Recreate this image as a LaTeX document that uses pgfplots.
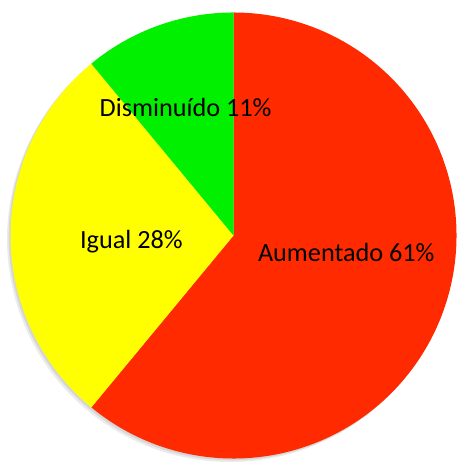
\documentclass[border=0pt]{standalone}
\usepackage{pgfplots}
\pgfplotsset{compat=1.18}
\usepackage{fontspec}
\setmainfont{Carlito}
\definecolor{cred}{RGB}{255,42,0}
\definecolor{cyel}{RGB}{255,255,0}
\definecolor{cgrn}{RGB}{0,240,0}
% data (percent)
\def\vA{61}% Aumentado
\def\vB{28}% Igual
\def\vC{11}% Disminuido
\pgfmathsetmacro{\aA}{90-3.6*\vA}
\pgfmathsetmacro{\aB}{\aA-3.6*\vB}
\pgfmathsetmacro{\aC}{\aB-3.6*\vC}
\def\cx{234}
\def\cy{236}
\def\R{223.5}
\begin{document}
\begin{tikzpicture}
\begin{axis}[
  scale only axis, width=459bp, height=462bp,
  xmin=0, xmax=459, ymin=0, ymax=462, y dir=reverse,
  hide axis, clip=false,
]
\path (axis cs:0,0) rectangle (axis cs:459,462);
% soft shadow
\addplot[fill=black!8, draw=none, domain=0:360, samples=180, variable=\t]
  ({\cx-3.5+\R*cos(\t)},{\cy+3.5-\R*sin(\t)}) -- cycle;
\addplot[fill=black!16, draw=none, domain=0:360, samples=180, variable=\t]
  ({\cx-1.8+\R*cos(\t)},{\cy+1.8-\R*sin(\t)}) -- cycle;
% wedges
\addplot[fill=cred, draw=none, domain=\aA:90, samples=150, variable=\t]
  ({\cx+\R*cos(\t)},{\cy-\R*sin(\t)}) -- (axis cs:\cx,\cy) -- cycle;
\addplot[fill=cyel, draw=none, domain=\aB:\aA, samples=80, variable=\t]
  ({\cx+\R*cos(\t)},{\cy-\R*sin(\t)}) -- (axis cs:\cx,\cy) -- cycle;
\addplot[fill=cgrn, draw=none, domain=\aC:\aB, samples=40, variable=\t]
  ({\cx+\R*cos(\t)},{\cy-\R*sin(\t)}) -- (axis cs:\cx,\cy) -- cycle;
% labels
\node[anchor=base, inner sep=0pt, font=\fontsize{26.3bp}{30bp}\selectfont] at (axis cs:186,116.7) {Disminuído 11\%};
\node[anchor=base, inner sep=0pt, font=\fontsize{26.3bp}{30bp}\selectfont] at (axis cs:131.7,249.3) {Igual 28\%};
\node[anchor=base, inner sep=0pt, font=\fontsize{26.3bp}{30bp}\selectfont] at (axis cs:347,262.3) {Aumentado 61\%};
\end{axis}
\end{tikzpicture}
\end{document}
